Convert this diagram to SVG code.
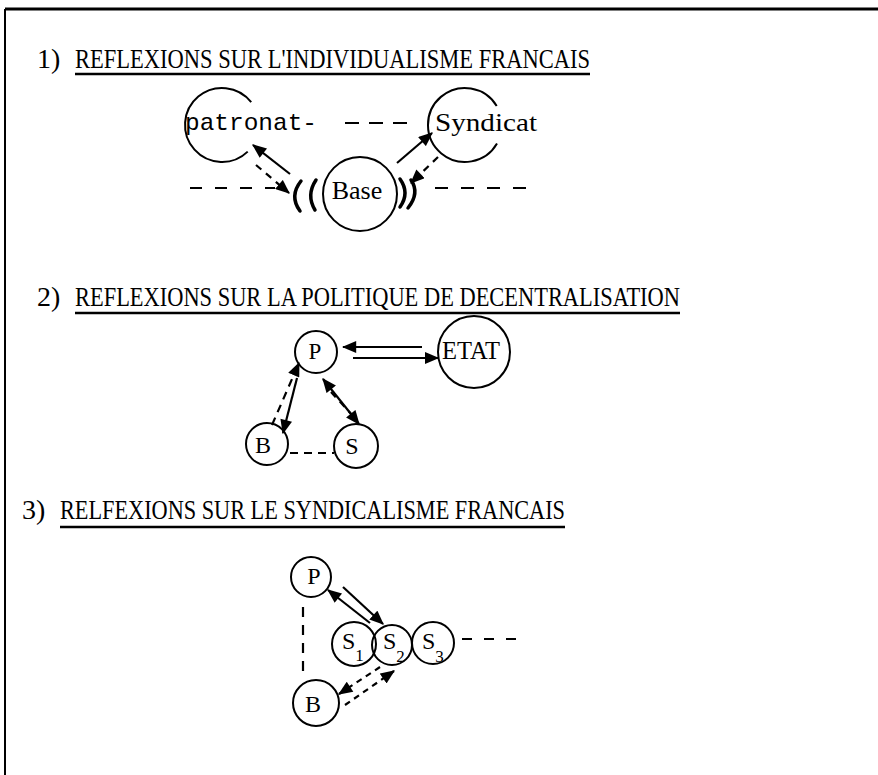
<svg xmlns="http://www.w3.org/2000/svg" width="878" height="775" viewBox="0 0 878 775">
<style>
.title{font-family:"Liberation Serif",serif;font-size:28px;fill:#000}
.lbl{font-family:"Liberation Serif",serif;fill:#000}
.mono{font-family:"Liberation Mono",monospace;fill:#000}
.node{fill:none;stroke:#000;stroke-width:2}
.ul{stroke:#000;stroke-width:2.5}
.c{fill:none;stroke:#000;stroke-width:2.2}
.d{fill:none;stroke:#000;stroke-width:2.2;stroke-dasharray:9,7}
.paren{fill:none;stroke:#000;stroke-width:3.5;stroke-linecap:round}
</style>
<defs>
<marker id="ah" viewBox="0 0 12 10" refX="11" refY="5" markerWidth="15" markerHeight="12" markerUnits="userSpaceOnUse" orient="auto-start-reverse"><path d="M0,0 L12,5 L0,10 z" fill="#000"/></marker>
</defs>
<rect width="878" height="775" fill="#fff"/>
<g id="frame">
<line x1="5" y1="9" x2="878" y2="9" stroke="#000" stroke-width="3"/>
<line x1="5" y1="9" x2="5" y2="775" stroke="#000" stroke-width="2"/>
</g>
<g id="titles">
<text class="title" x="37" y="68">1)</text>
<text class="title" x="75" y="68" textLength="515" lengthAdjust="spacingAndGlyphs">REFLEXIONS SUR L'INDIVIDUALISME FRANCAIS</text>
<line class="ul" x1="75" y1="74" x2="590" y2="74"/>
<text class="title" x="37" y="306">2)</text>
<text class="title" x="75" y="306" textLength="605" lengthAdjust="spacingAndGlyphs">REFLEXIONS SUR LA POLITIQUE DE DECENTRALISATION</text>
<line class="ul" x1="75" y1="313" x2="680" y2="313"/>
<text class="title" x="22" y="519">3)</text>
<text class="title" x="60" y="519" textLength="505" lengthAdjust="spacingAndGlyphs">RELFEXIONS SUR LE SYNDICALISME FRANCAIS</text>
<line class="ul" x1="60" y1="527" x2="565" y2="527"/>
</g>
<g id="s1-patronat">
<path class="node" d="M251.2,102.2 A37,37 0 1 0 247.7,151.6"/>
<text class="mono" x="185" y="130" font-size="24" textLength="132" lengthAdjust="spacingAndGlyphs">patronat-</text>
</g>
<g id="s1-syndicat">
<path class="node" d="M496.7,105.9 A37,37 0 1 0 497,143.5"/>
<text class="lbl" x="435" y="131" font-size="25" textLength="102" lengthAdjust="spacingAndGlyphs">Syndicat</text>
</g>
<g id="s1-base">
<circle class="node" cx="360" cy="194" r="37"/>
<text class="lbl" x="357" y="199" font-size="26" text-anchor="middle">Base</text>
</g>
<g id="s2-p"><circle class="node" cx="316" cy="352" r="21"/><text class="lbl" x="315" y="359" font-size="23" text-anchor="middle">P</text></g>
<g id="s2-etat"><circle class="node" cx="474" cy="352" r="36"/><text class="lbl" x="442" y="359" font-size="25" textLength="58" lengthAdjust="spacingAndGlyphs">ETAT</text></g>
<g id="s2-b"><circle class="node" cx="267" cy="444" r="21"/><text class="lbl" x="263" y="453" font-size="24" text-anchor="middle">B</text></g>
<g id="s2-s"><circle class="node" cx="356" cy="446" r="22"/><text class="lbl" x="352" y="454" font-size="24" text-anchor="middle">S</text></g>
<g id="s3-p"><circle class="node" cx="311" cy="577" r="20"/><text class="lbl" x="314" y="584" font-size="24" text-anchor="middle">P</text></g>
<g id="s3-s1"><circle class="node" cx="354" cy="644" r="22"/><text class="lbl" x="342" y="649" font-size="24">S<tspan font-size="17" dy="12">1</tspan></text></g>
<g id="s3-s2"><circle class="node" cx="392" cy="645" r="20"/><text class="lbl" x="383" y="649" font-size="24">S<tspan font-size="17" dy="13">2</tspan></text></g>
<g id="s3-s3"><circle class="node" cx="433" cy="643" r="21"/><text class="lbl" x="422" y="649" font-size="24">S<tspan font-size="17" dy="13">3</tspan></text></g>
<g id="s3-b"><circle class="node" cx="316" cy="703" r="23"/><text class="lbl" x="313" y="712" font-size="24" text-anchor="middle">B</text></g>
<g id="connectors">
<path class="d" d="M190,188 H275" style="stroke-dasharray:12,13"/>
<path class="d" d="M435,188 H527" style="stroke-dasharray:13,13"/>
<path class="d" d="M345,123 H410" style="stroke-dasharray:14,10"/>
<path class="c" d="M290,174 L253,145" marker-end="url(#ah)"/>
<path class="d" d="M256,165 L289,193" marker-end="url(#ah)" style="stroke-dasharray:7,6"/>
<path class="c" d="M397,163 L432,133" marker-end="url(#ah)"/>
<path class="d" d="M438,157 L411,183" marker-end="url(#ah)" style="stroke-dasharray:7,6"/>
<path class="paren" d="M301,181 Q289,196 300,211"/>
<path class="paren" d="M316,180 Q306,195 315,210"/>
<path class="paren" d="M400,179 Q410,193 400,207"/>
<path class="paren" d="M411,180 Q420,193 408,208"/>
<path class="c" d="M422,347 L343,347" marker-end="url(#ah)"/>
<path class="c" d="M353,358 L438,358" marker-end="url(#ah)"/>
<path class="d" d="M272,425 L299,363" marker-end="url(#ah)" style="stroke-dasharray:8,6"/>
<path class="c" d="M297,378 L283,433" marker-end="url(#ah)"/>
<path class="c" d="M323,379 L359,424" marker-start="url(#ah)" marker-end="url(#ah)"/>
<path class="d" d="M331,392 L354,417" style="stroke-dasharray:7,6"/>
<path class="d" d="M290,453 L334,453" style="stroke-dasharray:8,6"/>
<path class="c" d="M370,623 L328,590" marker-end="url(#ah)"/>
<path class="c" d="M343,587 L383,624" marker-end="url(#ah)"/>
<path class="d" d="M303,607 L303,675" style="stroke-dasharray:10,8"/>
<path class="d" d="M380,667 L339,694" marker-end="url(#ah)" style="stroke-dasharray:6,5"/>
<path class="d" d="M345,705 L394,671" marker-end="url(#ah)" style="stroke-dasharray:6,5"/>
<path class="d" d="M462,639 L526,639" style="stroke-dasharray:10,12"/>
</g>
</svg>
